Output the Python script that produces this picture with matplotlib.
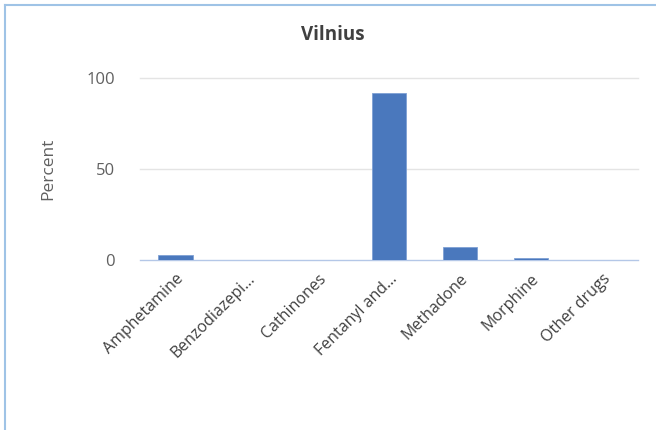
import matplotlib
matplotlib.use('Agg')
import matplotlib.pyplot as plt
from matplotlib.lines import Line2D

categories = ['Amphetamine', 'Benzodiazepi...', 'Cathinones', 'Fentanyl and...',
              'Methadone', 'Morphine', 'Other drugs']
values = [2.7, 0, 0, 92, 7.1, 1, 0]
yticks = [0, 50, 100]

plt.rcParams['font.family'] = ['Open Sans', 'DejaVu Sans']

fig = plt.figure(figsize=(6.56, 4.30), dpi=100)
ax = fig.add_axes([140/656, 1-260/430, 498/656, 182/430])

x = range(len(categories))
ax.bar(x, values, width=0.48, color='#4a78bd', edgecolor='#7ea0d4', linewidth=0.6, zorder=3)

ax.set_xlim(-0.5, len(categories) - 0.5)
ax.set_ylim(0, 100)
ax.set_yticks(yticks)
ax.set_yticklabels([str(v) for v in yticks], color='#606060', fontsize=12)
ax.tick_params(axis='y', length=0, pad=18)
ax.tick_params(axis='x', length=0, pad=8)
ax.set_xticks(list(x))
ax.set_xticklabels(categories, rotation=45, ha='right', rotation_mode='anchor',
                   fontsize=11.5, color='#404040')

for v in yticks[1:]:
    ax.axhline(v, color='#e4e4e4', linewidth=1, zorder=1, clip_on=False)

for s in ['top', 'right', 'left']:
    ax.spines[s].set_visible(False)
ax.spines['bottom'].set_color('#b4c7e7')
ax.spines['bottom'].set_linewidth(1)

ax.set_ylabel('Percent', fontsize=12.5, color='#606060', labelpad=22)
fig.text(333/656, 1-35/430, 'Vilnius', ha='center', va='center',
         fontsize=13.5, fontweight='bold', color='#404040')

# frame on left and top
fig.add_artist(Line2D([5/656, 5/656], [0, 1-5/430], color='#9fc3e6', linewidth=1.5))
fig.add_artist(Line2D([5/656, 1], [1-5/430, 1-5/430], color='#9fc3e6', linewidth=1.5))

fig.savefig('out.png', dpi=100)
